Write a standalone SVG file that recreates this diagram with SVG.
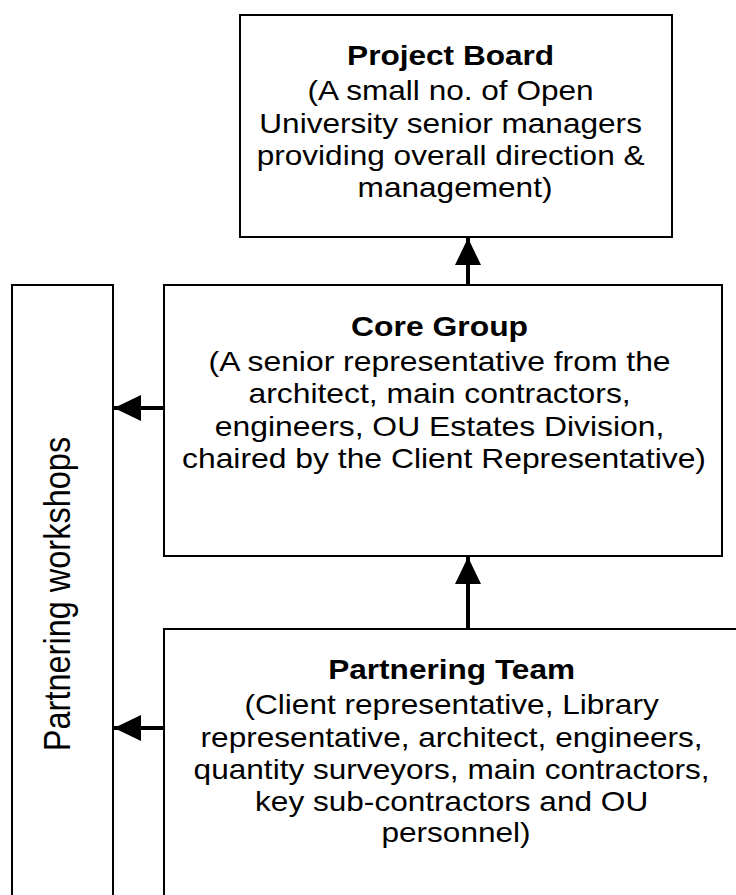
<svg xmlns="http://www.w3.org/2000/svg" width="736" height="895" viewBox="0 0 736 895">
  <style>
    .box { fill: #ffffff; stroke: #000000; stroke-width: 2; }
    .lbl { font-family: "Liberation Sans", Arial, sans-serif; font-size: 27px; fill: #000000; text-anchor: middle; }
    .ttl { font-weight: bold; }
    .conn { stroke: #000000; stroke-width: 4; fill: none; marker-end: url(#head); }
  </style>
  <defs>
    <marker id="head" markerUnits="userSpaceOnUse" markerWidth="28" markerHeight="28" refX="27" refY="13" orient="auto">
      <path d="M0,0 L27,13 L0,26 Z" fill="#000000"/>
    </marker>
  </defs>
  <rect width="736" height="895" fill="#ffffff"/>

  <g id="project-board">
    <rect class="box" x="240" y="15" width="432" height="222"/>
    <text class="lbl" transform="matrix(1.17 0 0 1 455 0)">
      <tspan class="ttl" x="0" y="65">Project Board</tspan>
      <tspan x="0" y="100">(A small no. of Open</tspan>
      <tspan x="0" y="133">University senior managers</tspan>
      <tspan x="0" y="165">providing overall direction &amp;</tspan>
      <tspan x="0" y="197">management)</tspan>
    </text>
  </g>

  <g id="core-group">
    <rect class="box" x="164" y="285" width="558" height="271"/>
    <text class="lbl" transform="matrix(1.18 0 0 1 444 0)">
      <tspan class="ttl" x="0" y="336">Core Group</tspan>
      <tspan x="0" y="371">(A senior representative from the</tspan>
      <tspan x="0" y="403">architect, main contractors,</tspan>
      <tspan x="0" y="436">engineers, OU Estates Division,</tspan>
      <tspan x="0" y="468">chaired by the Client Representative)</tspan>
    </text>
  </g>

  <g id="partnering-team">
    <rect class="box" x="164" y="629" width="584" height="280"/>
    <text class="lbl" transform="matrix(1.17 0 0 1 456 0)">
      <tspan class="ttl" x="0" y="679">Partnering Team</tspan>
      <tspan x="0" y="714">(Client representative, Library</tspan>
      <tspan x="0" y="747">representative, architect, engineers,</tspan>
      <tspan x="0" y="779">quantity surveyors, main contractors,</tspan>
      <tspan x="0" y="811">key sub-contractors and OU</tspan>
      <tspan x="0" y="842">personnel)</tspan>
    </text>
  </g>

  <g id="partnering-workshops">
    <rect class="box" x="12" y="285" width="101" height="630"/>
    <text class="lbl" transform="matrix(0 -1 1.12 0 70 594)" style="font-size:32.5px" x="0" y="0">Partnering workshops</text>
  </g>

  <g id="connectors">
    <line class="conn" x1="468" y1="285" x2="468" y2="238"/>
    <line class="conn" x1="468" y1="629" x2="468" y2="557"/>
    <line class="conn" x1="164" y1="408" x2="114" y2="408"/>
    <line class="conn" x1="164" y1="728" x2="114" y2="728"/>
  </g>
</svg>
